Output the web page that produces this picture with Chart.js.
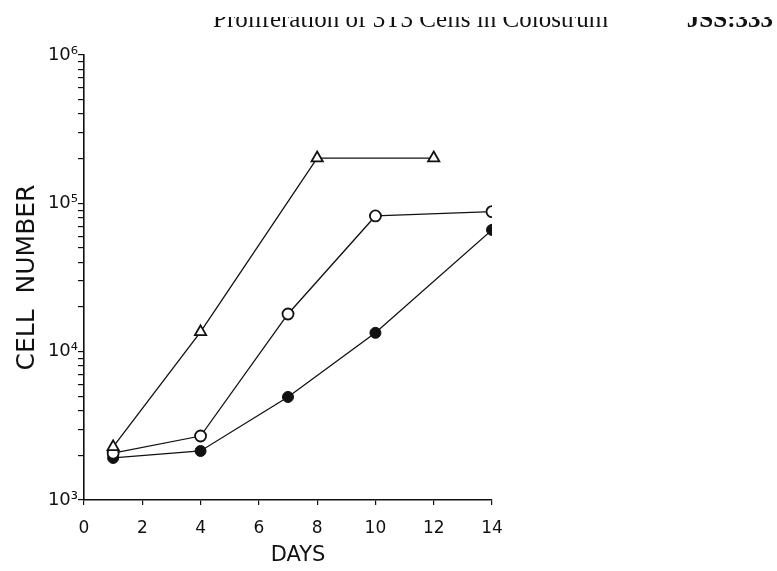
<!DOCTYPE html>
<html>
<head>
<meta charset="utf-8">
<script src="https://cdn.jsdelivr.net/npm/chart.js@4"></script>
<style>
  html, body { margin: 0; padding: 0; background: #fff; }
  #wrap { width: 777px; height: 571px; }
</style>
</head>
<body>
<div id="wrap"><canvas id="mychart" width="777" height="571"></canvas></div>
<script>
const ctx = document.getElementById("mychart").getContext("2d");

// data (cells per dish vs. days in culture)
const daysTriangle = [1, 4, 8, 12];
const cellsTriangle = [2280, 13600, 202000, 202000];

const daysOpen = [1, 4, 7, 10, 14];
const cellsOpen = [2070, 2700, 17950, 82200, 87900];

const daysFilled = [1, 4, 7, 10, 14];
const cellsFilled = [1920, 2140, 4950, 13400, 66200];

const xTicks = [0, 2, 4, 6, 8, 10, 12, 14];
const yDecades = [1e3, 1e4, 1e5, 1e6];
const yDecadeLabels = ["10³", "10⁴", "10⁵", "10⁶"];

const pageHeader = "Proliferation of 3T3 Cells in Colostrum";
const pageNumber = "JSS:333";

const ink = "#111";

// minor log ticks 2..9 inside each decade, plus the decades themselves
const yTickValues = [];
yDecades.forEach((d, i) => {
  yTickValues.push(d);
  if (i < yDecades.length - 1) {
    for (let m = 2; m <= 9; m++) yTickValues.push(d * m);
  }
});

const toXY = (xs, ys) => xs.map((x, i) => ({ x: x, y: ys[i] }));

// page running head, clipped at the top like the scanned page
const headerPlugin = {
  id: "header",
  afterDraw(chart) {
    const c = chart.ctx;
    c.save();
    c.beginPath();
    c.rect(0, 17, 777, 20);
    c.clip();
    c.fillStyle = ink;
    c.textBaseline = "alphabetic";
    c.font = "25px 'Liberation Serif'";
    c.textAlign = "left";
    c.fillText(pageHeader, 213, 27);
    c.font = "bold 25px 'Liberation Serif'";
    c.textAlign = "right";
    c.fillText(pageNumber, 773, 27);
    c.restore();
  },
};

const data = {
  datasets: [
    {
      data: toXY(daysTriangle, cellsTriangle),
      pointStyle: "triangle",
      pointRadius: 6.5,
      backgroundColor: "#fff",
      borderColor: ink,
      pointBorderWidth: 1.8,
      borderWidth: 1.3,
    },
    {
      data: toXY(daysOpen, cellsOpen),
      pointStyle: "circle",
      pointRadius: 5.5,
      backgroundColor: "#fff",
      borderColor: ink,
      pointBorderWidth: 1.8,
      borderWidth: 1.3,
    },
    {
      data: toXY(daysFilled, cellsFilled),
      pointStyle: "circle",
      pointRadius: 5.5,
      backgroundColor: ink,
      borderColor: ink,
      pointBorderWidth: 1,
      borderWidth: 1.3,
    },
  ],
};

const config = {
  type: "line",
  data: data,
  plugins: [headerPlugin],
  options: {
    responsive: false,
    animation: false,
    layout: { padding: { top: 55, right: 285, bottom: 0, left: 0 } },
    plugins: {
      legend: { display: false },
      tooltip: { enabled: false },
    },
    elements: { line: { tension: 0 } },
    scales: {
      x: {
        type: "linear",
        min: 0,
        max: 14,
        afterBuildTicks: (scale) => {
          scale.ticks = xTicks.map((v) => ({ value: v }));
        },
        afterFit: (scale) => {
          scale.height = 71;
        },
        grid: {
          drawOnChartArea: false,
          drawTicks: true,
          tickLength: 5,
          color: ink,
          lineWidth: 1.2,
        },
        border: { color: ink, width: 1.6 },
        ticks: {
          color: ink,
          padding: 13,
          font: { family: "DejaVu Sans", size: 17 },
        },
        title: {
          display: true,
          text: "   DAYS",
          color: ink,
          padding: { top: 4, bottom: 3 },
          font: { family: "DejaVu Sans", size: 21 },
        },
      },
      y: {
        type: "logarithmic",
        min: 1000,
        max: 1e6,
        afterBuildTicks: (scale) => {
          scale.ticks = yTickValues.map((v) => ({ value: v }));
        },
        afterFit: (scale) => {
          scale.width = 84;
        },
        grid: {
          drawOnChartArea: false,
          drawTicks: true,
          tickLength: 6,
          color: ink,
          lineWidth: 1.2,
        },
        border: { color: ink, width: 1.6 },
        ticks: {
          color: ink,
          padding: 0,
          autoSkip: false,
          font: { family: "DejaVu Sans", size: 18 },
          callback: function (value) {
            const i = yDecades.indexOf(value);
            return i >= 0 ? yDecadeLabels[i] : "";
          },
        },
        title: {
          display: true,
          text: "CELL  NUMBER",
          color: ink,
          padding: { top: 12, bottom: 0 },
          font: { family: "DejaVu Sans", size: 25 },
        },
      },
    },
  },
};

const myChart = new Chart(ctx, config);
</script>
</body>
</html>
